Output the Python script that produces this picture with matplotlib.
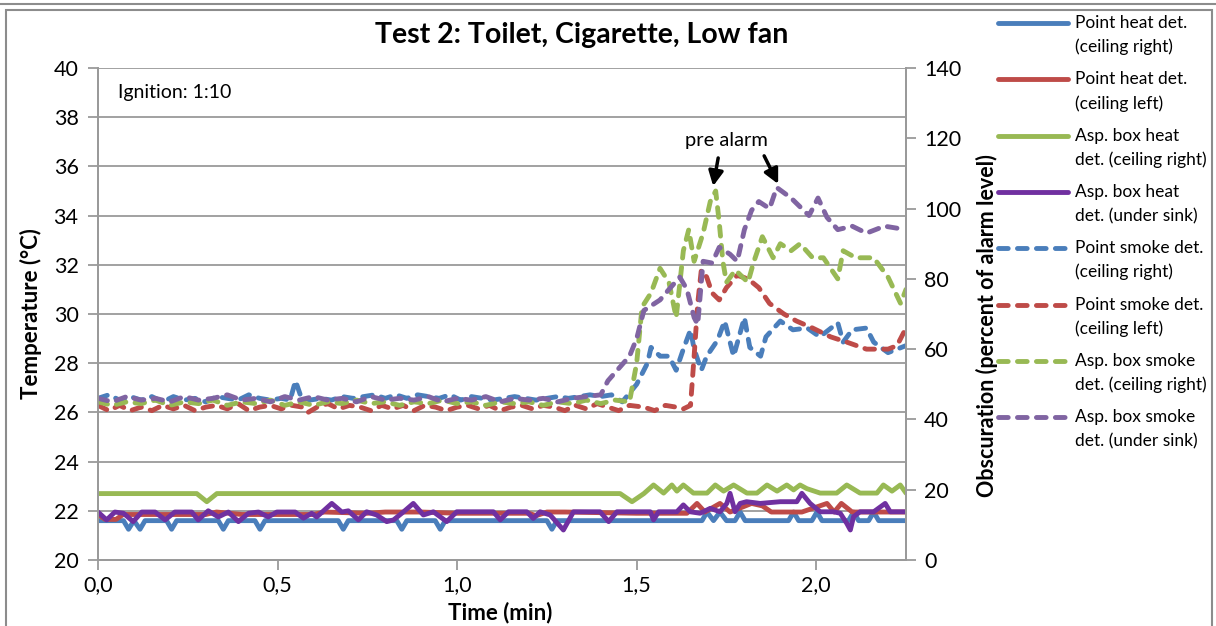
import numpy as np
import matplotlib
matplotlib.use('Agg')
import matplotlib.pyplot as plt
from matplotlib.lines import Line2D
from matplotlib.patches import Rectangle

plt.rcParams['font.family'] = ['Lato', 'DejaVu Sans']

# (time in min, temperature in degC) - solid lines, left axis
point_heat_right = [(0.00, 21.6), (0.071, 21.6), (0.085, 21.25), (0.10, 21.6), (0.117, 21.25), (0.131, 21.6),
                    (0.191, 21.6), (0.205, 21.25), (0.219, 21.6), (0.335, 21.6), (0.349, 21.25), (0.363, 21.6),
                    (0.437, 21.6), (0.451, 21.25), (0.465, 21.6), (0.669, 21.6), (0.683, 21.25), (0.697, 21.6),
                    (0.832, 21.6), (0.846, 21.25), (0.86, 21.6), (0.939, 21.6), (0.953, 21.25), (0.967, 21.6),
                    (1.25, 21.6), (1.264, 21.25), (1.278, 21.6), (1.682, 21.6), (1.696, 21.95), (1.714, 21.6),
                    (1.732, 21.95), (1.75, 21.6), (1.774, 21.6), (1.788, 21.95), (1.802, 21.6), (1.923, 21.6),
                    (1.937, 21.95), (1.951, 21.6), (1.988, 21.6), (2.002, 21.95), (2.016, 21.6), (2.09, 21.6),
                    (2.104, 21.95), (2.118, 21.6), (2.146, 21.6), (2.16, 21.95), (2.174, 21.6), (2.25, 21.6)]
point_heat_left = [(0.00, 21.85), (0.02, 21.65), (0.05, 21.65), (0.07, 21.85), (0.30, 21.85), (0.33, 21.95),
                   (0.40, 21.85), (0.60, 21.85), (0.63, 21.95), (0.75, 21.9), (0.80, 21.95), (0.90, 21.95),
                   (1.00, 21.9), (1.20, 21.9), (1.22, 21.8), (1.25, 21.95), (1.30, 21.95), (1.50, 21.9),
                   (1.64, 21.9), (1.668, 22.3), (1.69, 21.95), (1.732, 22.3), (1.76, 21.95), (1.82, 22.3),
                   (1.85, 22.2), (1.875, 21.95), (1.96, 21.95), (2.03, 22.3), (2.05, 21.95), (2.07, 22.3),
                   (2.10, 21.95), (2.25, 21.95)]
asp_heat_right = [(0.00, 22.7), (0.275, 22.7), (0.303, 22.37), (0.331, 22.7), (1.454, 22.7), (1.487, 22.37),
                  (1.52, 22.7), (1.547, 23.05), (1.575, 22.72), (1.598, 23.05), (1.612, 22.8), (1.63, 23.05),
                  (1.658, 22.72), (1.696, 22.72), (1.719, 23.05), (1.742, 22.8), (1.770, 23.05), (1.807, 22.72),
                  (1.835, 22.72), (1.863, 23.05), (1.891, 22.8), (1.918, 23.05), (1.937, 22.85), (1.955, 23.05),
                  (1.974, 22.9), (2.011, 22.72), (2.057, 22.72), (2.085, 23.05), (2.122, 22.72), (2.169, 22.72),
                  (2.187, 23.05), (2.211, 22.8), (2.234, 23.05), (2.25, 22.72)]
asp_heat_sink = [(0.00, 21.95), (0.024, 21.63), (0.047, 21.95), (0.071, 21.9), (0.098, 21.56), (0.122, 21.95),
                 (0.159, 21.95), (0.187, 21.63), (0.214, 21.95), (0.261, 21.95), (0.279, 21.63), (0.307, 22.0),
                 (0.335, 21.75), (0.363, 21.95), (0.391, 21.56), (0.419, 21.9), (0.447, 21.95), (0.474, 21.75),
                 (0.498, 21.95), (0.549, 21.95), (0.572, 21.7), (0.595, 21.9), (0.609, 21.75), (0.651, 22.3),
                 (0.679, 21.95), (0.697, 22.0), (0.725, 21.63), (0.748, 21.96), (0.776, 21.83), (0.804, 21.56),
                 (0.823, 21.63), (0.851, 21.96), (0.878, 22.30), (0.906, 21.83), (0.934, 21.96), (0.971, 21.56),
                 (0.999, 21.96), (1.101, 21.96), (1.12, 21.63), (1.143, 21.96), (1.194, 21.96), (1.212, 21.69),
                 (1.231, 21.96), (1.259, 21.83), (1.296, 21.22), (1.324, 21.96), (1.398, 21.96), (1.422, 21.56),
                 (1.445, 21.96), (1.538, 21.96), (1.547, 21.63), (1.561, 21.96), (1.612, 21.96), (1.630, 22.24),
                 (1.649, 21.96), (1.677, 21.90), (1.705, 22.10), (1.732, 21.96), (1.751, 22.30), (1.760, 22.71),
                 (1.774, 21.96), (1.788, 22.30), (1.806, 22.37), (1.844, 22.30), (1.900, 22.37), (1.946, 22.37),
                 (1.960, 22.71), (1.983, 22.30), (2.011, 21.96), (2.048, 21.96), (2.067, 21.90), (2.085, 21.49),
                 (2.095, 21.22), (2.104, 21.76), (2.122, 21.96), (2.160, 21.96), (2.192, 22.30), (2.206, 21.96),
                 (2.248, 21.96)]

# (time in min, obscuration in % of alarm level) - dashed lines, right axis
point_smoke_right = [(0.00, 46.0), (0.03, 47.0), (0.06, 45.5), (0.09, 46.5), (0.12, 45.5), (0.15, 46.5), (0.18, 45.0),
                     (0.21, 46.5), (0.24, 45.5), (0.27, 46.0), (0.30, 45.0), (0.33, 46.5), (0.36, 46.0), (0.39, 45.5),
                     (0.42, 47.0), (0.45, 46.0), (0.48, 45.5), (0.51, 46.0), (0.535, 45.5), (0.55, 51.0), (0.565, 46.5),
                     (0.59, 45.5), (0.62, 46.0), (0.65, 45.5), (0.68, 46.5), (0.71, 46.0), (0.74, 46.5), (0.77, 47.0),
                     (0.80, 46.0), (0.83, 47.0), (0.86, 46.0), (0.89, 47.0), (0.92, 46.5), (0.95, 46.0), (0.98, 47.0),
                     (1.01, 45.5), (1.04, 46.5), (1.07, 46.0), (1.10, 45.5), (1.13, 46.0), (1.16, 46.5), (1.19, 46.0),
                     (1.22, 45.5), (1.25, 46.0), (1.28, 46.5), (1.31, 46.0), (1.34, 46.5), (1.37, 47.0), (1.40, 46.5),
                     (1.43, 47.0), (1.46, 45.0), (1.50, 50.0), (1.53, 56.0), (1.54, 60.5), (1.565, 58.0), (1.59, 58.0),
                     (1.61, 54.0), (1.63, 60.0), (1.65, 65.5), (1.66, 60.0), (1.68, 54.0), (1.695, 58.0), (1.725, 62.5),
                     (1.745, 68.0), (1.77, 58.0), (1.80, 69.0), (1.815, 60.5), (1.845, 58.0), (1.86, 63.5), (1.90, 68.0),
                     (1.935, 65.5), (1.975, 66.0), (2.01, 63.5), (2.06, 67.5), (2.075, 62.0), (2.10, 65.5), (2.14, 66.0),
                     (2.16, 62.0), (2.20, 59.0), (2.25, 61.0)]
point_smoke_left = [(0.00, 44.0), (0.03, 42.5), (0.06, 44.0), (0.09, 42.5), (0.12, 43.5), (0.15, 42.5), (0.18, 44.0),
                    (0.21, 43.0), (0.24, 44.0), (0.27, 42.5), (0.30, 43.5), (0.33, 44.0), (0.36, 43.0), (0.39, 44.5),
                    (0.42, 42.5), (0.45, 43.5), (0.48, 44.0), (0.51, 43.0), (0.54, 44.0), (0.57, 43.5), (0.585, 42.0),
                    (0.61, 43.5), (0.64, 44.5), (0.67, 43.0), (0.70, 44.0), (0.73, 43.5), (0.76, 42.5), (0.79, 44.0),
                    (0.82, 43.0), (0.85, 44.0), (0.88, 42.5), (0.91, 44.0), (0.94, 43.5), (0.97, 42.5), (1.00, 43.5),
                    (1.03, 44.0), (1.06, 43.0), (1.09, 44.0), (1.12, 42.5), (1.15, 43.5), (1.18, 44.0), (1.21, 43.0),
                    (1.24, 44.0), (1.27, 43.5), (1.30, 42.5), (1.33, 44.0), (1.36, 43.0), (1.39, 44.5), (1.42, 43.5),
                    (1.45, 42.5), (1.48, 44.0), (1.52, 43.5), (1.55, 42.5), (1.58, 44.0), (1.61, 43.5), (1.63, 43.0),
                    (1.65, 44.0), (1.66, 58.0), (1.67, 73.0), (1.68, 82.5), (1.695, 80.5), (1.71, 76.0), (1.73, 74.0),
                    (1.75, 77.5), (1.78, 81.0), (1.81, 80.0), (1.84, 77.5), (1.87, 73.0), (1.91, 70.0), (1.945, 68.0),
                    (1.99, 66.0), (2.04, 63.5), (2.085, 62.0), (2.14, 60.0), (2.20, 60.0), (2.225, 61.0), (2.25, 66.0)]
asp_smoke_right = [(0.00, 45.0), (0.04, 44.0), (0.08, 45.0), (0.12, 44.5), (0.16, 45.5), (0.20, 44.0), (0.24, 45.0),
                   (0.28, 44.5), (0.32, 45.5), (0.36, 44.0), (0.40, 45.0), (0.44, 44.5), (0.48, 45.5), (0.52, 44.0),
                   (0.56, 45.0), (0.60, 44.0), (0.64, 45.0), (0.68, 44.5), (0.72, 45.5), (0.76, 44.5), (0.80, 45.0),
                   (0.84, 44.0), (0.88, 45.0), (0.92, 44.5), (0.96, 45.5), (1.00, 44.5), (1.04, 45.0), (1.08, 44.0),
                   (1.12, 45.0), (1.16, 44.5), (1.20, 45.0), (1.24, 44.0), (1.28, 45.0), (1.32, 44.5), (1.36, 45.5),
                   (1.40, 44.5), (1.44, 45.5), (1.48, 45.0), (1.50, 56.0), (1.515, 72.0), (1.54, 76.0), (1.565, 83.0),
                   (1.59, 79.0), (1.61, 69.0), (1.63, 88.0), (1.645, 94.0), (1.66, 85.0), (1.685, 93.0), (1.705, 102.0),
                   (1.72, 105.0), (1.73, 96.0), (1.74, 85.0), (1.75, 79.0), (1.775, 82.5), (1.81, 79.0), (1.825, 84.5),
                   (1.85, 92.0), (1.88, 86.0), (1.90, 90.0), (1.93, 88.0), (1.955, 90.0), (1.99, 86.0), (2.02, 86.0),
                   (2.06, 80.0), (2.075, 88.0), (2.11, 86.0), (2.16, 86.0), (2.20, 80.5), (2.235, 73.0), (2.25, 77.0)]
asp_smoke_sink = [(0.00, 46.0), (0.04, 45.0), (0.08, 46.5), (0.12, 45.5), (0.16, 46.0), (0.20, 45.0), (0.24, 46.5),
                  (0.28, 45.5), (0.32, 46.0), (0.36, 47.0), (0.40, 45.5), (0.44, 46.0), (0.48, 45.0), (0.52, 46.5),
                  (0.56, 45.5), (0.60, 46.5), (0.64, 45.5), (0.68, 46.0), (0.72, 45.0), (0.76, 46.5), (0.80, 45.5),
                  (0.84, 46.0), (0.88, 45.5), (0.92, 46.5), (0.96, 45.0), (1.00, 46.0), (1.04, 45.5), (1.08, 46.5),
                  (1.12, 45.0), (1.16, 46.0), (1.20, 45.5), (1.24, 46.0), (1.28, 45.0), (1.32, 46.0), (1.36, 46.5),
                  (1.40, 47.0), (1.42, 51.0), (1.48, 58.0), (1.50, 63.0), (1.52, 71.0), (1.565, 74.0), (1.59, 77.0),
                  (1.62, 80.5), (1.64, 77.0), (1.66, 69.0), (1.67, 67.0), (1.685, 85.0), (1.71, 84.5), (1.73, 89.0),
                  (1.76, 87.0), (1.78, 85.0), (1.80, 94.0), (1.82, 99.5), (1.84, 102.0), (1.87, 100.0), (1.89, 106.0),
                  (1.93, 103.0), (1.955, 100.5), (1.98, 98.0), (2.005, 103.0), (2.03, 97.5), (2.06, 94.0), (2.10, 95.0),
                  (2.14, 93.0), (2.19, 95.0), (2.25, 94.0)]

labels = ['Point heat det.\n(ceiling right)', 'Point heat det.\n(ceiling left)',
          'Asp. box heat\ndet. (ceiling right)', 'Asp. box heat\ndet. (under sink)',
          'Point smoke det.\n(ceiling right)', 'Point smoke det.\n(ceiling left)',
          'Asp. box smoke\ndet. (ceiling right)', 'Asp. box smoke\ndet. (under sink)']
colors = ['#4a7ebb', '#be4b48', '#98b954', '#7030a0', '#4a7ebb', '#be4b48', '#98b954', '#8064a2']

temp_ticks = np.arange(20, 41, 2)
obsc_ticks = np.arange(0, 141, 20)
time_ticks = [0.0, 0.5, 1.0, 1.5, 2.0]

W, H = 1216, 626
fig = plt.figure(figsize=(W / 100, H / 100), dpi=100)
ax = fig.add_axes([98 / W, 1 - 560 / H, 808 / W, 492 / H])
ax2 = ax.twinx()

dash = (0, (2.0, 1.9))
lw = 3.5
for data, c in zip([point_heat_right, point_heat_left, asp_heat_right, asp_heat_sink], colors[:4]):
    d = np.array(data).T
    ax.plot(d[0], d[1], color=c, lw=lw, solid_joinstyle='round', solid_capstyle='round')
for data, c in zip([point_smoke_right, point_smoke_left, asp_smoke_right, asp_smoke_sink], colors[4:]):
    d = np.array(data).T
    ax2.plot(d[0], d[1], color=c, lw=lw, linestyle=dash, dash_capstyle='round', dash_joinstyle='round')

grey = '#9a9a9a'
ax.set_xlim(0, 2.25)
ax.set_ylim(20, 40)
ax2.set_ylim(0, 140)
ax.set_yticks(temp_ticks)
ax2.set_yticks(obsc_ticks)
ax.set_xticks(time_ticks)
ax.set_xticklabels([('%.1f' % t).replace('.', ',') for t in time_ticks])
ax.grid(axis='y', color=grey, lw=1.3)
ax.set_axisbelow(True)
for a in (ax, ax2):
    a.spines['top'].set_visible(False)
    for s in ('left', 'right', 'bottom'):
        a.spines[s].set_color(grey)
        a.spines[s].set_linewidth(1.3)
ax.tick_params(axis='y', length=7, width=1.3, color=grey, labelsize=15.5, pad=7)
ax.tick_params(axis='x', length=7, width=1.3, color=grey, labelsize=15.5, pad=4)
ax2.tick_params(axis='y', length=7, width=1.3, color=grey, labelsize=15.5, pad=6)

ax.set_ylabel('Temperature (°C)', fontsize=16, fontweight='bold')
ax.yaxis.set_label_coords(-0.069, 0.5)
ax2.set_ylabel('Obscuration (percent of alarm level)', fontsize=15.5, fontweight='bold')
ax2.yaxis.set_label_coords(1.086, 0.476)
ax.set_xlabel('Time (min)', fontsize=16, fontweight='bold')
ax.xaxis.set_label_coords(0.4975, -0.085)

fig.text(582 / W, 1 - 35 / H, 'Test 2: Toilet, Cigarette, Low fan', ha='center', va='center',
         fontsize=20.5, fontweight='bold')
ax.text(0.025, 0.951, 'Ignition: 1:10', transform=ax.transAxes, fontsize=14, va='center')

ax2.text(1.749, 119.5, 'pre alarm', ha='center', va='center', fontsize=14.5)
arrow = dict(arrowstyle='-|>', color='black', lw=2.5, mutation_scale=22, shrinkA=0, shrinkB=0)
ax2.annotate('', xy=(1.713, 106.4), xytext=(1.727, 114.4), arrowprops=arrow)
ax2.annotate('', xy=(1.894, 107.0), xytext=(1.855, 115.0), arrowprops=arrow)

# legend drawn by hand: handle sits on the first text line like in Excel
for i, (lab, c) in enumerate(zip(labels, colors)):
    y = 1 - (23 + 56.3 * i) / H
    ls = '-' if i < 4 else dash
    fig.add_artist(Line2D([998 / W, 1068 / W], [y, y], color=c, lw=lw, linestyle=ls,
                          solid_capstyle='round', dash_capstyle='round'))
    first, second = lab.split('\n')
    fig.text(1075 / W, y, first, fontsize=12.5, va='center')
    fig.text(1075 / W, y - 24 / H, second, fontsize=12.5, va='center')

# chart border
fig.add_artist(Rectangle((6 / W, -0.05), 1206 / W, 1.05 - 10 / H, fill=False, ec='#8c8c8c', lw=1.5))
fig.add_artist(Line2D([0, 1], [1 - 4 / H, 1 - 4 / H], color='#8c8c8c', lw=1.5))

fig.savefig('out.png', dpi=100)
